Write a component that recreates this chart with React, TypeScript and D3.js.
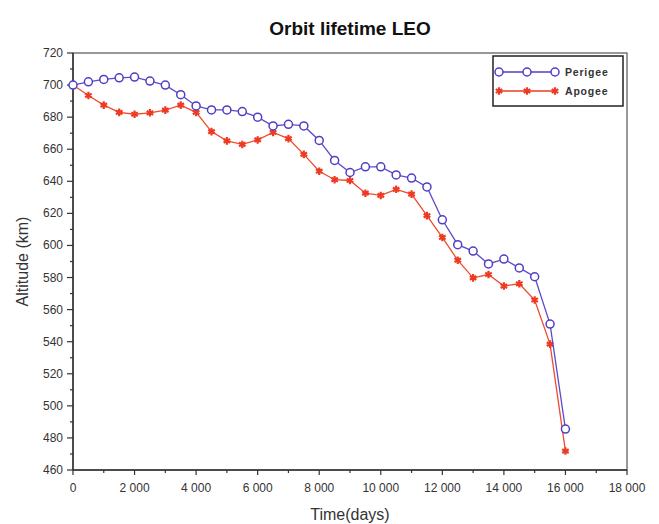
import React, { useEffect, useRef } from 'react';
import * as d3 from 'd3';

// days, one sample every 500 days
const days = [
  0, 500, 1000, 1500, 2000, 2500, 3000, 3500, 4000, 4500, 5000, 5500, 6000, 6500, 7000, 7500,
  8000, 8500, 9000, 9500, 10000, 10500, 11000, 11500, 12000, 12500, 13000, 13500, 14000, 14500,
  15000, 15500, 16000,
];
const perigee = [
  700, 702, 703.5, 704.5, 705, 702.5, 700, 694, 687, 684.5, 684.5, 683.5, 680, 674.5, 675.5, 674.5,
  665.5, 653, 645.5, 649, 649, 644, 642, 636.5, 616, 600.5, 596.5, 588.5, 591.5, 586, 580.5, 551,
  485.5,
];
const apogee = [
  700, 693.5, 687.5, 683, 681.8, 682.7, 684.4, 687.5, 683, 671, 665.2, 663, 665.8, 670.5, 666.6, 656.8,
  646.3, 641, 640.5, 632.6, 631.2, 635, 632, 618.6, 605, 590.8, 579.8, 581.9, 574.7, 576.1, 566, 538.5,
  471.8,
];
const xTicks = [0, 2000, 4000, 6000, 8000, 10000, 12000, 14000, 16000, 18000];
const yTicks = [460, 480, 500, 520, 540, 560, 580, 600, 620, 640, 660, 680, 700, 720];
const seriesNames = ['Perigee', 'Apogee'];

const W = 659;
const H = 524;

export default function App() {
  const ref = useRef<SVGSVGElement>(null);

  useEffect(() => {
    const svg = d3.select(ref.current);
    svg.selectAll('*').remove();

    const margin = { top: 53, right: 32, bottom: 54, left: 73 };
    const x = d3.scaleLinear().domain([0, 18000]).range([margin.left, W - margin.right]);
    const y = d3.scaleLinear().domain([460, 720]).range([H - margin.bottom, margin.top]);

    const loc = d3.formatLocale({ decimal: '.', thousands: ' ', grouping: [3], currency: ['', ''] });
    const fmt = loc.format(',');
    const font = "'Liberation Sans', Arial, sans-serif";
    const axisColor = '#333';

    // frame (top / right)
    svg.append('rect')
      .attr('x', x(0)).attr('y', y(720))
      .attr('width', x(18000) - x(0)).attr('height', y(460) - y(720))
      .attr('fill', 'none').attr('stroke', '#555').attr('stroke-width', 1.2);

    // x axis
    const gx = svg.append('g').attr('transform', `translate(0,${y(460)})`);
    gx.append('line').attr('x1', x(0)).attr('x2', x(18000)).attr('stroke', axisColor).attr('stroke-width', 1.5);
    gx.selectAll('line.minor').data(d3.range(0, 18001, 1000)).enter().append('line')
      .attr('class', 'minor')
      .attr('x1', d => x(d)).attr('x2', d => x(d))
      .attr('y1', 0).attr('y2', d => (d % 2000 === 0 ? 5 : 3))
      .attr('stroke', axisColor).attr('stroke-width', 1.2);
    gx.selectAll('text').data(xTicks).enter().append('text')
      .attr('x', d => x(d)).attr('y', 22)
      .attr('text-anchor', 'middle')
      .style('font-family', font).style('font-size', '12px').attr('fill', '#333')
      .text(d => fmt(d));

    // y axis
    const gy = svg.append('g').attr('transform', `translate(${x(0)},0)`);
    gy.append('line').attr('y1', y(460)).attr('y2', y(720)).attr('stroke', axisColor).attr('stroke-width', 1.5);
    gy.selectAll('line.minor').data(d3.range(460, 721, 10)).enter().append('line')
      .attr('class', 'minor')
      .attr('y1', d => y(d)).attr('y2', d => y(d))
      .attr('x1', 0).attr('x2', d => (d % 20 === 0 ? -6 : -3))
      .attr('stroke', axisColor).attr('stroke-width', 1.2);
    gy.selectAll('text').data(yTicks).enter().append('text')
      .attr('x', -10).attr('y', d => y(d) + 4)
      .attr('text-anchor', 'end')
      .style('font-family', font).style('font-size', '12px').attr('fill', '#333')
      .text(d => d);

    // title and axis labels
    svg.append('text')
      .attr('x', (x(0) + x(18000)) / 2).attr('y', 35)
      .attr('text-anchor', 'middle')
      .style('font-family', font).style('font-size', '19px').style('font-weight', 'bold')
      .attr('fill', '#111')
      .text('Orbit lifetime LEO');
    svg.append('text')
      .attr('x', (x(0) + x(18000)) / 2).attr('y', 520)
      .attr('text-anchor', 'middle')
      .style('font-family', font).style('font-size', '16px').attr('fill', '#333')
      .text('Time(days)');
    svg.append('text')
      .attr('transform', `translate(28,${(y(460) + y(720)) / 2}) rotate(-90)`)
      .attr('text-anchor', 'middle')
      .style('font-family', font).style('font-size', '16px').attr('fill', '#333')
      .text('Altitude (km)');

    const line = d3.line<[number, number]>().x(d => x(d[0])).y(d => y(d[1]));
    const pData = days.map((d, i) => [d, perigee[i]] as [number, number]);
    const aData = days.map((d, i) => [d, apogee[i]] as [number, number]);

    const blue = '#4f3fc4';
    const red = '#ee3a22';
    const star = d3.symbol().type(d3.symbolAsterisk).size(40);

    // apogee
    svg.append('path').attr('d', line(aData)).attr('fill', 'none').attr('stroke', '#f04a30').attr('stroke-width', 1.3);
    svg.selectAll('path.am').data(aData).enter().append('path')
      .attr('class', 'am')
      .attr('transform', d => `translate(${x(d[0])},${y(d[1])})`)
      .attr('d', star()).attr('fill', red).attr('stroke', red).attr('stroke-width', 2.2);

    // perigee
    svg.append('path').attr('d', line(pData)).attr('fill', 'none').attr('stroke', '#5a4cc8').attr('stroke-width', 1.3);
    svg.selectAll('circle.pm').data(pData).enter().append('circle')
      .attr('class', 'pm')
      .attr('cx', d => x(d[0])).attr('cy', d => y(d[1])).attr('r', 4)
      .attr('fill', 'white').attr('stroke', blue).attr('stroke-width', 1.5);

    // legend
    const lg = svg.append('g');
    lg.append('rect').attr('x', 493).attr('y', 56).attr('width', 130).attr('height', 50)
      .attr('fill', 'white').attr('stroke', '#222').attr('stroke-width', 1.5);
    seriesNames.forEach((name, i) => {
      const ly = 72 + i * 19;
      const col = i === 0 ? blue : red;
      lg.append('line').attr('x1', 499).attr('x2', 555).attr('y1', ly).attr('y2', ly)
        .attr('stroke', col).attr('stroke-width', 1.3);
      [499, 527, 555].forEach(mx => {
        if (i === 0) {
          lg.append('circle').attr('cx', mx).attr('cy', ly).attr('r', 4)
            .attr('fill', 'white').attr('stroke', col).attr('stroke-width', 1.5);
        } else {
          lg.append('path').attr('transform', `translate(${mx},${ly})`).attr('d', star())
            .attr('fill', col).attr('stroke', col).attr('stroke-width', 2.2);
        }
      });
      lg.append('text').attr('x', 565).attr('y', ly + 4)
        .style('font-family', font).style('font-size', '10.5px').style('font-weight', 'bold')
        .style('letter-spacing', '0.8px').attr('fill', '#333')
        .text(name);
    });
  }, []);

  return (
    <svg ref={ref} width={W} height={H}
      style={{ position: 'absolute', left: 0, top: 0, background: 'white' }} />
  );
}
